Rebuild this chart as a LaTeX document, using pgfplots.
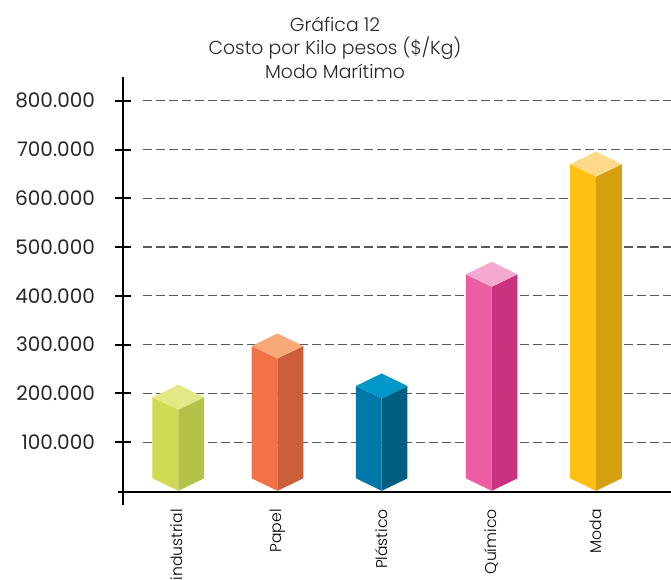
\documentclass[border=0pt]{standalone}
\usepackage{pgfplots}
\pgfplotsset{compat=1.18}
\usepackage{pgfplotstable}
\usepackage{fontspec}
\setmainfont{Poppins}
\newfontfamily\lightfont{Poppins Light}

\definecolor{c0L}{HTML}{CFDB52}\definecolor{c0R}{HTML}{B4C247}\definecolor{c0T}{HTML}{E1E886}
\definecolor{c1L}{HTML}{F27348}\definecolor{c1R}{HTML}{CC5E3A}\definecolor{c1T}{HTML}{F7A877}
\definecolor{c2L}{HTML}{0078A8}\definecolor{c2R}{HTML}{005F80}\definecolor{c2T}{HTML}{0098C9}
\definecolor{c3L}{HTML}{EC5DA1}\definecolor{c3R}{HTML}{C8327E}\definecolor{c3T}{HTML}{F5A9CE}
\definecolor{c4L}{HTML}{FFC012}\definecolor{c4R}{HTML}{D4A010}\definecolor{c4T}{HTML}{FFD98A}

% x in pixels-like units, v in thousands of pesos per kg
\pgfplotstableread{
x      v    c
178.3  192  0
277.5  297  1
381.7  215  2
491.7  444  3
596.0  670  4
}\costdata

\pgfdeclareplotmark{box3d}{%
  \pgfmathtruncatemacro\ci{\cidx}%
  \pgfmathsetmacro\hh{\val*0.2438}%
  \pgfmathsetmacro\hd{\hh-6.25}%
  % left face
  \pgfsetfillcolor{c\ci L}%
  \pgfpathmoveto{\pgfpoint{-12.9pt}{0pt}}%
  \pgfpathlineto{\pgfpoint{0pt}{-6.25pt}}%
  \pgfpathlineto{\pgfpoint{0pt}{-\hh pt}}%
  \pgfpathlineto{\pgfpoint{-12.9pt}{-\hd pt}}%
  \pgfpathclose\pgfusepath{fill}%
  % right face
  \pgfsetfillcolor{c\ci R}%
  \pgfpathmoveto{\pgfpoint{12.9pt}{0pt}}%
  \pgfpathlineto{\pgfpoint{0pt}{-6.25pt}}%
  \pgfpathlineto{\pgfpoint{0pt}{-\hh pt}}%
  \pgfpathlineto{\pgfpoint{12.9pt}{-\hd pt}}%
  \pgfpathclose\pgfusepath{fill}%
  % top face
  \pgfsetfillcolor{c\ci T}%
  \pgfpathmoveto{\pgfpoint{-12.9pt}{0pt}}%
  \pgfpathlineto{\pgfpoint{0pt}{6.25pt}}%
  \pgfpathlineto{\pgfpoint{12.9pt}{0pt}}%
  \pgfpathlineto{\pgfpoint{0pt}{-6.25pt}}%
  \pgfpathclose\pgfusepath{fill}%
}

\begin{document}
\begin{tikzpicture}
\begin{axis}[
  x=0.5pt, y=0.2438pt,
  xmin=123, xmax=671, ymin=-29, ymax=848,
  axis line style={draw=none},
  clip=false,
  ytick={100,200,300,400,500,600,700,800},
  yticklabels={100.000,200.000,300.000,400.000,500.000,600.000,700.000,800.000},
  ytick pos=left,
  tick align=center,
  major tick length=8pt,
  ytick style={black, line width=1pt},
  yticklabel style={anchor=east, xshift=-6.5pt, font=\fontsize{10}{12}\selectfont, text=black!85},
  xtick={178.3,277.5,381.7,491.7,596.0},
  xticklabels={Agroindustrial,Papel,Plástico,Químico,Moda},
  xtick style={draw=none},
  xticklabel shift=-3pt,
  xticklabel style={rotate=90, anchor=east, inner sep=1pt, font=\lightfont\fontsize{7.8}{9}\selectfont, text=black},
]
\foreach \g in {100,200,300,400,500,600,700,800}{
  \edef\tmp{\noexpand\draw[dash pattern=on 4.5pt off 2pt, black!65, line width=0.55pt] (axis cs:143,\g) -- (axis cs:671,\g);}\tmp
}
\draw[line width=1pt] (axis cs:123,-29) -- (axis cs:123,848);
\draw[line width=1pt] (axis cs:118,-2.4) -- (axis cs:671,-2.4);
\addplot[scatter, only marks, mark=box3d,
  visualization depends on={\thisrow{v} \as \val},
  visualization depends on={\thisrow{c} \as \cidx}]
  table[x=x, y=v] {\costdata};
\node[align=center, font=\lightfont\fontsize{9.4}{11.8}\selectfont, text=black!85] at (axis cs:335,909)
  {Gráfica 12\\Costo por Kilo pesos (\$/Kg)\\Modo Marítimo};
\coordinate (TL) at (axis cs:0,1006.6);
\coordinate (BR) at (axis cs:671,-180.9);
\end{axis}
\pgfresetboundingbox
\useasboundingbox (TL) rectangle (BR);
\end{tikzpicture}
\end{document}
